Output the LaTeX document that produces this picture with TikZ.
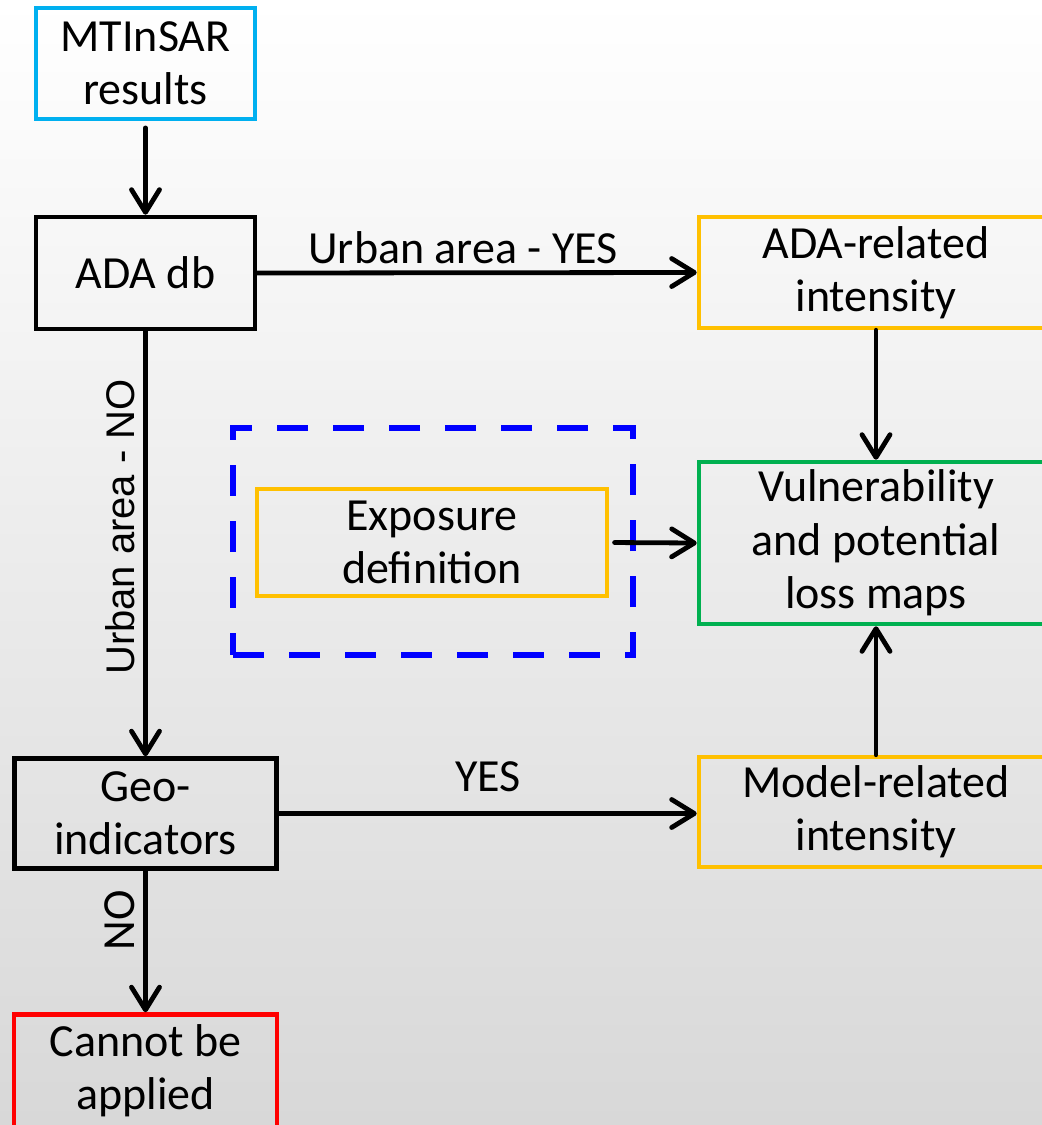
\documentclass[tikz,border=0pt]{standalone}
\usepackage{fontspec}
\setmainfont{Carlito}
\newfontfamily\arialf{Liberation Sans}
\usetikzlibrary{arrows.meta}
\definecolor{cyanb}{HTML}{00B0F0}
\definecolor{orangeb}{HTML}{FFC000}
\definecolor{greenb}{HTML}{00B050}
\definecolor{redb}{HTML}{FF0000}
\definecolor{blueb}{HTML}{0000FF}
\definecolor{bgbot}{HTML}{D8D8D8}
\tikzset{
  box/.style={draw, line width=3.4pt, inner sep=0pt, align=center,
    font=\fontsize{34.5}{40}\selectfont},
  lbl/.style={inner sep=0pt, font=\fontsize{34.5}{40}\selectfont},
  conn/.style={line width=3.6pt, line cap=round, -{Straight Barb[length=17pt,width=21pt,line cap=round,line join=round]}},
}
\begin{document}
\begin{tikzpicture}[x=0.75pt,y=-0.75pt]
\useasboundingbox (0,0) rectangle (1042,1125);
\clip (0,0) rectangle (1042,1125);
\shade[top color=white, bottom color=bgbot] (0,0) rectangle (1042,1125);

\node[box, draw=cyanb, minimum width=219*0.75pt, minimum height=111*0.75pt] (mt) at (145.5,63.5) {MTInSAR\\results};
\node[box, draw=black, minimum width=219*0.75pt, minimum height=112*0.75pt] (ada) at (145.5,273) {ADA db};
\node[box, draw=orangeb, minimum width=354*0.75pt, minimum height=111*0.75pt] (adar) at (876,272.5) {ADA-related\\intensity};
\node[box, draw=greenb, minimum width=354*0.75pt, minimum height=162*0.75pt] (vul) at (876,543) {Vulnerability\\and potential\\loss maps};
\node[draw=blueb, line width=5pt, dash pattern=on 23pt off 19pt, inner sep=0pt, minimum width=400*0.75pt, minimum height=227*0.75pt] (dsh) at (433,541.5) {};
\node[box, draw=orangeb, minimum width=350*0.75pt, minimum height=107*0.75pt] (exp) at (432,542.5) {Exposure\\definition};
\node[box, draw=black, minimum width=262*0.75pt, minimum height=110*0.75pt] (geo) at (145.5,813.5) {Geo-\\indicators};
\node[box, draw=orangeb, minimum width=354*0.75pt, minimum height=110*0.75pt] (model) at (876,812) {Model-related\\intensity};
\node[box, draw=redb, minimum width=263*0.75pt, minimum height=113*0.75pt] (cannot) at (145.5,1071) {Cannot be\\applied};

\draw[conn, shorten <=5pt] (mt.south) -- (ada.north);
\draw[conn] (ada.east) -- (adar.west);
\draw[conn] (ada.south) -- (ada.south |- geo.north);
\draw[conn] (adar.south) -- (vul.north);
\draw[conn, shorten <=4pt] (exp.east) -- (vul.west);
\draw[conn] (model.north) -- (vul.south);
\draw[conn] (geo.east) -- (geo.east -| model.west);
\draw[conn] (geo.south) -- (cannot.north);

\node[lbl, anchor=base] (lyes1) at (463,263) {Urban area - YES};
\node[lbl, anchor=base] (lyes2) at (488,791) {YES};
\node[lbl, anchor=base, rotate=90, font=\arialf\fontsize{30}{36}\selectfont] (lno1) at (134,527) {Urban area - NO};
\node[lbl, anchor=base, rotate=90] (lno2) at (134,920) {NO};
\end{tikzpicture}
\end{document}
